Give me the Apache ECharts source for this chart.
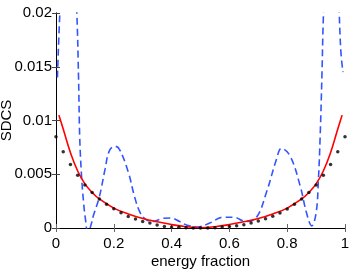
<!DOCTYPE html>
<html><head><meta charset="utf-8">
<script src="https://cdn.jsdelivr.net/npm/echarts@6/dist/echarts.min.js"></script>
<style>html,body{margin:0;padding:0;background:#fff}#c{width:359px;height:272px}</style>
</head><body><div id="c"></div>
<script>
const xTicks = [0, 0.2, 0.4, 0.6, 0.8, 1];
const yTicks = [0, 0.005, 0.01, 0.015, 0.02];

const dotX = [0,0.025,0.05,0.075,0.1,0.125,0.15,0.175,0.2,0.225,0.25,0.275,0.3,0.325,0.35,0.375,0.4,0.425,0.45,0.475,0.5,
  0.525,0.55,0.575,0.6,0.625,0.65,0.675,0.7,0.725,0.75,0.775,0.8,0.825,0.85,0.875,0.9,0.925,0.95,0.975,1];
const dotY = [0.0085,0.0071,0.0059,0.0049,0.0040,0.0033,0.0027,0.0022,0.0018,0.00142,0.00107,0.00083,0.00061,0.00046,0.00028,0.00015,0.0001,0.00006,0.00002,0,0,
  0,0.00002,0.0001,0.00015,0.0002,0.0003,0.00046,0.00065,0.00086,0.0011,0.0014,0.00176,0.0022,0.0027,0.0033,0.0040,0.0049,0.0059,0.0071,0.0085];

const redX = [0.01,0.025,0.05,0.075,0.1,0.125,0.15,0.2,0.25,0.3,0.35,0.4,0.45,0.5,0.55,0.6,0.65,0.7,0.75,0.8,0.85,0.875,0.9,0.925,0.95,0.975,0.99];
const redY = [0.0105,0.0092,0.0070,0.0053,0.0041,0.0033,0.0027,0.00185,0.0013,0.00088,0.00058,0.00032,0.00012,0.00003,0.00012,0.00032,0.00058,0.00088,0.0013,0.00185,0.0027,0.0033,0.0041,0.0053,0.0070,0.0092,0.0105];

const blueX = [0.005,0.0125,0.025,0.04,0.055,0.065,0.072,0.078,0.082,0.088,0.095,0.102,0.11,0.118,0.13,0.15,0.17,0.185,0.205,0.22,0.25,0.272,0.29,0.31,0.335,0.37,0.395,0.428,0.45,0.49,0.532,0.578,0.613,0.659,0.694,0.728,0.763,0.78,0.81,0.845,0.867,0.885,0.9,0.908,0.914,0.92,0.925,0.935,0.955,0.972,0.98,0.986,0.993];
const blueY = [0.014,0.0195,0.026,0.029,0.026,0.023,0.02,0.014,0.0085,0.005,0.0025,0.0008,-0.0004,0.0,0.0012,0.0029,0.0055,0.0072,0.0076,0.0073,0.0052,0.0029,0.0015,0.0008,0.0006,0.0009,0.00093,0.0006,0.0003,0.0001,0.00046,0.001,0.001,0.0006,0.001,0.0033,0.0064,0.0074,0.0067,0.0039,0.0014,0.0002,0.0014,0.0045,0.0085,0.014,0.0195,0.026,0.029,0.026,0.02,0.0163,0.0145];

const zip = (a,b) => a.map((v,i)=>[v,b[i]]);
const font = 'Liberation Sans, Arial, sans-serif';
const fmtX = v => String(Math.round(v*10)/10);
const fmtY = v => String(Math.round(v*1000)/1000);

const chart = echarts.init(document.getElementById('c'));
chart.setOption({
  animation:false,
  grid:{left:56,right:14,top:13,bottom:44,containLabel:false,outerBoundsMode:'none'},
  xAxis:[{type:'value',min:0,max:1,interval:0.2,position:'bottom',
    name:'energy fraction',nameLocation:'middle',nameGap:26,nameMoveOverlap:false,
    nameTextStyle:{fontFamily:font,fontSize:15,color:'#000'},
    axisLine:{lineStyle:{color:'#000',width:1}},
    axisTick:{inside:true,length:4,lineStyle:{color:'#666'}},
    axisLabel:{formatter:fmtX,fontFamily:font,fontSize:15,color:'#000',margin:8},
    splitLine:{show:false}},
    {type:'value',min:0,max:1,interval:0.2,position:'top',
    axisLine:{show:true,lineStyle:{color:'#000',width:1}},
    axisTick:{inside:true,length:4,lineStyle:{color:'#666'}},
    axisLabel:{show:false},splitLine:{show:false}}],
  yAxis:[{type:'value',min:0,max:0.02,interval:0.005,position:'left',
    name:'SDCS',nameLocation:'middle',nameGap:42,nameMoveOverlap:false,
    nameTextStyle:{fontFamily:font,fontSize:15,color:'#000'},
    axisLine:{show:true,lineStyle:{color:'#444',width:1}},
    axisTick:{inside:true,length:4,lineStyle:{color:'#444'}},
    axisLabel:{formatter:fmtY,fontFamily:font,fontSize:15,color:'#000',margin:4},
    splitLine:{show:false}},
    {type:'value',min:0,max:0.02,interval:0.005,position:'right',
    axisLine:{show:true,lineStyle:{color:'#000',width:1}},
    axisTick:{inside:true,length:4,lineStyle:{color:'#444'}},
    axisLabel:{show:false},splitLine:{show:false}}],
  series:[
    {type:'line',data:zip(blueX,blueY),smooth:0.4,showSymbol:false,clip:true,
     lineStyle:{color:'#3355ff',width:1.6,type:[7,4]},z:2},
    {type:'line',data:zip(redX,redY),smooth:0.4,showSymbol:false,clip:true,
     lineStyle:{color:'#ff0000',width:1.6},z:3},
    {type:'scatter',data:zip(dotX,dotY),symbolSize:3.5,itemStyle:{color:'#000'},z:4}
  ]
});
</script></body></html>
